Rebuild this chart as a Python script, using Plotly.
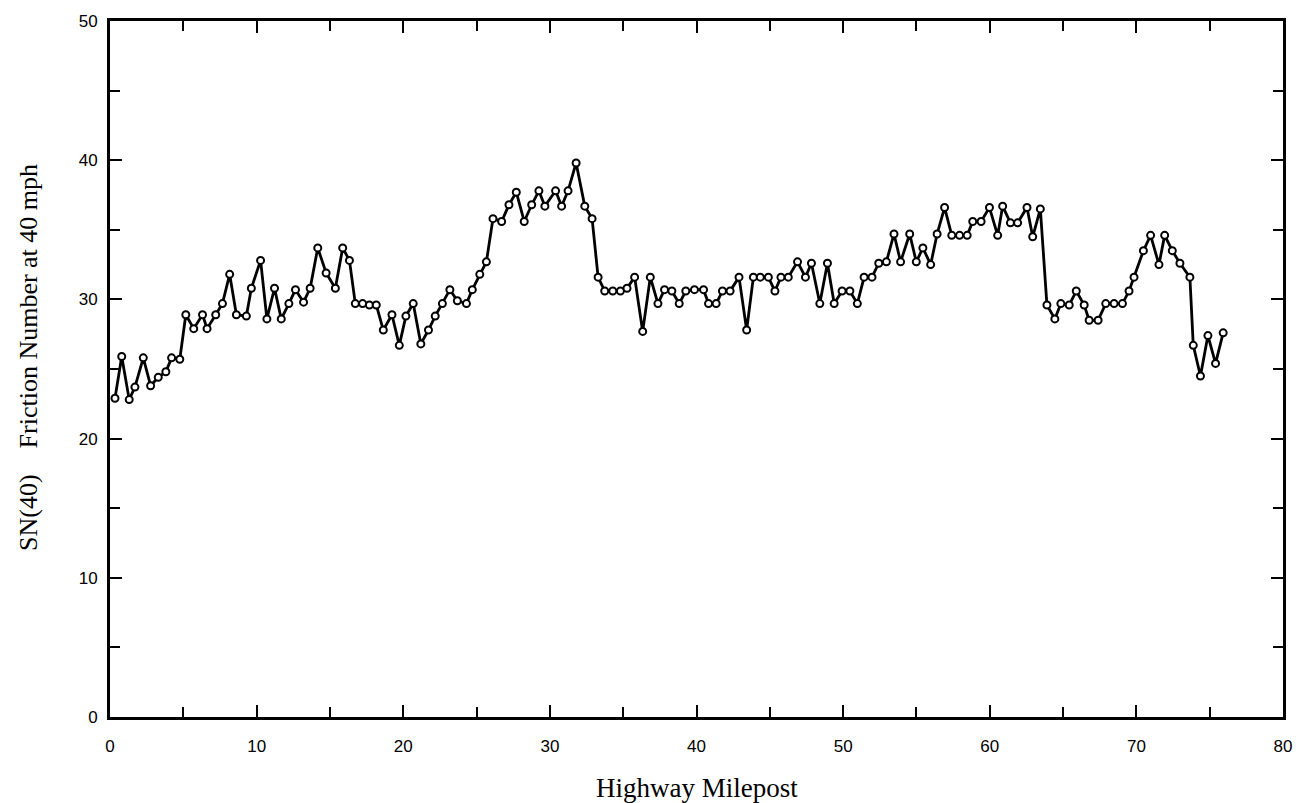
import plotly.graph_objects as go

milepost = [0.34, 0.80, 1.31, 1.70, 2.27, 2.77, 3.29, 3.81, 4.20, 4.76,
            5.17, 5.71, 6.31, 6.62, 7.21, 7.67, 8.16, 8.62, 9.30, 9.64,
            10.27, 10.70, 11.22, 11.68, 12.20, 12.65, 13.20, 13.65, 14.17, 14.74,
            15.37, 15.87, 16.33, 16.73, 17.23, 17.69, 18.16, 18.64, 19.23, 19.73,
            20.18, 20.68, 21.20, 21.72, 22.18, 22.67, 23.18, 23.69, 24.31, 24.71,
            25.22, 25.67, 26.12, 26.71, 27.21, 27.71, 28.25, 28.76, 29.25, 29.66,
            30.39, 30.80, 31.24, 31.79, 32.38, 32.88, 33.29, 33.74, 34.29, 34.81,
            35.26, 35.78, 36.33, 36.85, 37.37, 37.82, 38.32, 38.82, 39.27, 39.86,
            40.48, 40.82, 41.34, 41.77, 42.29, 42.90, 43.42, 43.88, 44.35, 44.90,
            45.35, 45.76, 46.26, 46.89, 47.43, 47.84, 48.41, 48.93, 49.39, 49.93,
            50.46, 50.97, 51.43, 51.97, 52.43, 52.95, 53.47, 53.92, 54.54, 54.99,
            55.44, 55.97, 56.41, 56.92, 57.41, 57.94, 58.46, 58.84, 59.41, 59.98,
            60.54, 60.88, 61.41, 61.90, 62.54, 62.93, 63.45, 63.90, 64.44, 64.85,
            65.42, 65.90, 66.44, 66.78, 67.39, 67.91, 68.48, 69.05, 69.50, 69.84,
            70.48, 70.97, 71.54, 71.93, 72.45, 72.97, 73.65, 73.88, 74.37, 74.88,
            75.40, 75.92]

sn40 = [22.9, 25.9, 22.8, 23.7, 25.8, 23.8, 24.4, 24.8, 25.8, 25.7,
        28.9, 27.9, 28.9, 27.9, 28.9, 29.7, 31.8, 28.9, 28.8, 30.8,
        32.8, 28.6, 30.8, 28.6, 29.7, 30.7, 29.8, 30.8, 33.7, 31.9,
        30.8, 33.7, 32.8, 29.7, 29.7, 29.6, 29.6, 27.8, 28.9, 26.7,
        28.8, 29.7, 26.8, 27.8, 28.8, 29.7, 30.7, 29.9, 29.7, 30.7,
        31.8, 32.7, 35.8, 35.6, 36.8, 37.7, 35.6, 36.8, 37.8, 36.7,
        37.8, 36.7, 37.8, 39.8, 36.7, 35.8, 31.6, 30.6, 30.6, 30.6,
        30.8, 31.6, 27.7, 31.6, 29.7, 30.7, 30.6, 29.7, 30.6, 30.7,
        30.7, 29.7, 29.7, 30.6, 30.6, 31.6, 27.8, 31.6, 31.6, 31.6,
        30.6, 31.6, 31.6, 32.7, 31.6, 32.6, 29.7, 32.6, 29.7, 30.6,
        30.6, 29.7, 31.6, 31.6, 32.6, 32.7, 34.7, 32.7, 34.7, 32.7,
        33.7, 32.5, 34.7, 36.6, 34.6, 34.6, 34.6, 35.6, 35.6, 36.6,
        34.6, 36.7, 35.5, 35.5, 36.6, 34.5, 36.5, 29.6, 28.6, 29.7,
        29.6, 30.6, 29.6, 28.5, 28.5, 29.7, 29.7, 29.7, 30.6, 31.6,
        33.5, 34.6, 32.5, 34.6, 33.5, 32.6, 31.6, 26.7, 24.5, 27.4,
        25.4, 27.6]

x_ticks = [0, 10, 20, 30, 40, 50, 60, 70, 80]
y_ticks = [0, 10, 20, 30, 40, 50]

fig = go.Figure()
fig.add_trace(go.Scatter(
    x=milepost, y=sn40, mode="lines+markers",
    line=dict(color="black", width=2.8),
    marker=dict(symbol="circle", size=7, color="white",
                line=dict(color="black", width=2)),
    showlegend=False,
))

axis_common = dict(
    showgrid=False, zeroline=False, showline=True, linecolor="black",
    linewidth=3, mirror="allticks", ticks="inside", tickcolor="black",
    tickwidth=2, ticklen=12,
    tickfont=dict(family="Liberation Sans, Arial", size=17, color="black"),
    minor=dict(ticks="inside", ticklen=10, tickwidth=1.5, tickcolor="black", dtick=5),
)

fig.update_xaxes(range=[0, 80], tickvals=x_ticks, ticklabelstandoff=12, **axis_common)
fig.update_yaxes(range=[0, 50], tickvals=y_ticks, ticklabelstandoff=6, **axis_common)

fig.add_annotation(
    text="Highway Milepost", xref="paper", yref="paper", x=0.5, y=0,
    xanchor="center", yanchor="middle", yshift=-71, showarrow=False,
    font=dict(family="Liberation Serif, Times New Roman", size=27, color="black"),
)
fig.add_annotation(
    text="SN(40)\u00a0\u00a0\u00a0\u00a0Friction Number at 40 mph",
    xref="paper", yref="paper", x=0, y=0.5, xanchor="center", yanchor="middle",
    xshift=-82, yshift=11, textangle=-90, showarrow=False,
    font=dict(family="Liberation Serif, Times New Roman", size=26, color="black"),
)

fig.update_layout(
    width=1304, height=803,
    margin=dict(l=110, r=18, t=15, b=86),
    paper_bgcolor="white", plot_bgcolor="white",
)

fig.write_html("out.html")
